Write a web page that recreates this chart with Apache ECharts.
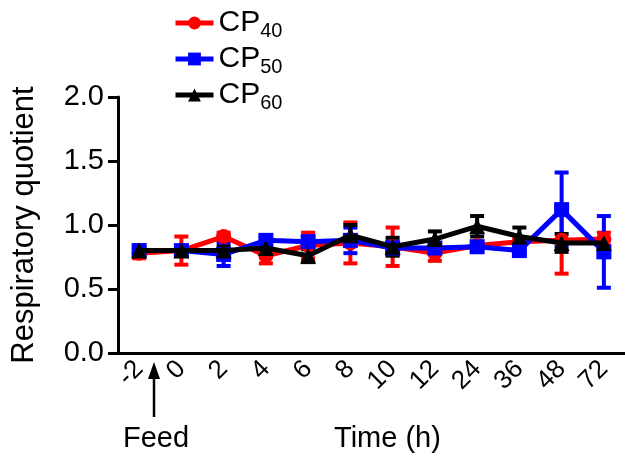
<!DOCTYPE html>
<html>
<head>
<meta charset="utf-8">
<script src="https://cdn.jsdelivr.net/npm/echarts@6/dist/echarts.min.js"></script>
<style>html,body{margin:0;padding:0;background:#fff}#c{width:625px;height:462px}</style>
</head>
<body>
<div id="c"></div>
<script>
var categories = ['-2','0','2','4','6','8','10','12','24','36','48','72'];
var cp40Mean = [0.78, 0.80, 0.91, 0.76, 0.84, 0.86, 0.83, 0.78, 0.84, 0.87, 0.88, 0.89];
var cp40Err  = [0.04, 0.11, 0.03, 0.06, 0.10, 0.16, 0.15, 0.06, 0.03, 0.03, 0.26, 0.05];
var cp50Mean = [0.80, 0.80, 0.77, 0.88, 0.87, 0.88, 0.82, 0.82, 0.83, 0.80, 1.12, 0.79];
var cp50Err  = [0.03, 0.03, 0.09, 0.03, 0.03, 0.10, 0.05, 0.04, 0.02, 0.02, 0.29, 0.28];
var cp60Mean = [0.80, 0.80, 0.80, 0.82, 0.76, 0.92, 0.83, 0.89, 0.99, 0.91, 0.86, 0.86];
var cp60Err  = [0.04, 0.03, 0.03, 0.03, 0.05, 0.08, 0.07, 0.06, 0.08, 0.07, 0.07, 0.03];
var yTicks = [0, 0.5, 1.0, 1.5, 2.0];

var FONT = 'Liberation Sans';
var chart = echarts.init(document.getElementById('c'));

function errSeries(name, mean, err, color) {
  return {
    type: 'custom',
    name: name + '_err',
    data: mean.map(function (m, i) { return [i, m, err[i]]; }),
    z: 1,
    silent: true,
    renderItem: function (params, api) {
      var x = api.value(0), m = api.value(1), e = api.value(2);
      var top = api.coord([x, m + e]);
      var bot = api.coord([x, m - e]);
      var w = 7;
      var style = { stroke: color, lineWidth: 4 };
      return {
        type: 'group',
        children: [
          { type: 'line', shape: { x1: top[0], y1: top[1], x2: bot[0], y2: bot[1] }, style: style },
          { type: 'line', shape: { x1: top[0] - w, y1: top[1], x2: top[0] + w, y2: top[1] }, style: style },
          { type: 'line', shape: { x1: bot[0] - w, y1: bot[1], x2: bot[0] + w, y2: bot[1] }, style: style }
        ]
      };
    }
  };
}

function lineSeries(name, mean, color, symbol, size, z) {
  return {
    type: 'line',
    name: name,
    data: mean,
    symbol: symbol,
    symbolSize: size,
    z: z,
    lineStyle: { color: color, width: 5 },
    itemStyle: { color: color },
    animation: false
  };
}

var option = {
  animation: false,
  backgroundColor: '#fff',
  grid: { left: 118, top: 97, width: 512, height: 256, containLabel: false },
  legend: {
    orient: 'vertical',
    left: 168,
    top: 3,
    itemGap: 3,
    itemWidth: 38,
    itemHeight: 16,
    lineStyle: { width: 5 },
    data: ['CP40', 'CP50', 'CP60'],
    formatter: function (n) { return '{a|CP}{b|' + n.slice(2) + '}'; },
    textStyle: {
      rich: {
        a: { fontFamily: FONT, fontSize: 30, color: '#000', lineHeight: 34 },
        b: { fontFamily: FONT, fontSize: 20, color: '#000', padding: [16, 0, 0, 0] }
      }
    }
  },
  xAxis: {
    type: 'category',
    data: categories,
    boundaryGap: true,
    axisLine: { lineStyle: { color: '#000', width: 3 } },
    axisTick: { alignWithLabel: true, interval: 0, length: 9, lineStyle: { color: '#000', width: 3 } },
    axisLabel: { rotate: 45, interval: 0, margin: 12, fontFamily: FONT, fontSize: 26, color: '#000' },
    splitLine: { show: false }
  },
  yAxis: {
    type: 'value',
    min: 0, max: 2, interval: 0.5,
    name: 'Respiratory quotient',
    nameLocation: 'middle',
    nameGap: 78,
    nameTextStyle: { fontFamily: FONT, fontSize: 31, color: '#000' },
    axisLine: { show: true, lineStyle: { color: '#000', width: 3 } },
    axisTick: { show: true, length: 10, lineStyle: { color: '#000', width: 3 } },
    axisLabel: {
      margin: 14, fontFamily: FONT, fontSize: 29, color: '#000',
      formatter: function (v) { return yTicks.indexOf(v) >= 0 ? v.toFixed(1) : ''; }
    },
    splitLine: { show: false }
  },
  series: [
    errSeries('CP40', cp40Mean, cp40Err, '#ff0000'),
    errSeries('CP50', cp50Mean, cp50Err, '#0000ff'),
    errSeries('CP60', cp60Mean, cp60Err, '#000000'),
    lineSeries('CP40', cp40Mean, '#ff0000', 'circle', 15, 3),
    lineSeries('CP50', cp50Mean, '#0000ff', 'rect', 15, 4),
    lineSeries('CP60', cp60Mean, '#000000', 'triangle', 16, 5)
  ],
  graphic: [
    { type: 'line', shape: { x1: 154, y1: 417, x2: 154, y2: 372 }, style: { stroke: '#000', lineWidth: 2.5 } },
    { type: 'polygon', shape: { points: [[154, 362], [148, 379], [160, 379]] }, style: { fill: '#000' } },
    { type: 'text', left: 123, top: 424, style: { text: 'Feed', font: '29px "Liberation Sans"', fill: '#000' } },
    { type: 'text', left: 334, top: 424, style: { text: 'Time (h)', font: '29px "Liberation Sans"', fill: '#000' } }
  ]
};
chart.setOption(option);
</script>
</body>
</html>
